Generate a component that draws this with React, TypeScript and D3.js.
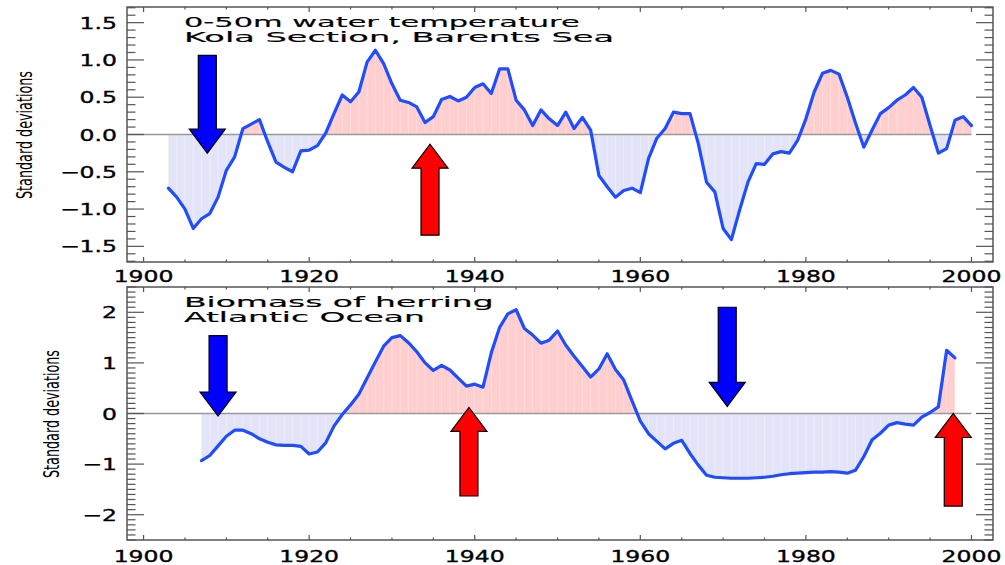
import React from 'react';
import * as d3 from 'd3';

// Kola Section 0-50m water temperature anomaly (std devs), one value per year from 1903
const kolaStart = 1903;
const kolaValues = [
  -0.72, -0.84, -1.0, -1.26, -1.13, -1.06, -0.84, -0.48, -0.3, 0.08,
  0.14, 0.2, -0.1, -0.37, -0.44, -0.5, -0.22, -0.21, -0.15, 0.02,
  0.28, 0.53, 0.44, 0.57, 0.97, 1.13, 0.95, 0.68, 0.46, 0.43,
  0.37, 0.16, 0.24, 0.47, 0.51, 0.45, 0.5, 0.63, 0.68, 0.55,
  0.88, 0.88, 0.46, 0.33, 0.12, 0.33, 0.21, 0.12, 0.3, 0.08,
  0.23, 0.06, -0.55, -0.7, -0.84, -0.75, -0.72, -0.78, -0.32, -0.05,
  0.08, 0.3, 0.28, 0.28, -0.12, -0.64, -0.77, -1.26, -1.41, -1.01,
  -0.64, -0.39, -0.4, -0.26, -0.23, -0.25, -0.08, 0.21, 0.57, 0.82,
  0.86, 0.81, 0.5, 0.15, -0.17, 0.06, 0.28, 0.36, 0.46, 0.53,
  0.63, 0.5, 0.12, -0.25, -0.19, 0.19, 0.24, 0.12,
];

// Atlantic herring biomass anomaly (std devs), one value per year from 1907
const herringStart = 1907;
const herringValues = [
  -0.93, -0.83, -0.64, -0.45, -0.33, -0.33, -0.4, -0.5, -0.57, -0.62,
  -0.63, -0.63, -0.65, -0.8, -0.76, -0.58, -0.25, -0.02, 0.17, 0.38,
  0.7, 1.02, 1.33, 1.5, 1.54, 1.4, 1.22, 1.0, 0.85, 0.95,
  0.86, 0.7, 0.54, 0.58, 0.52, 1.2, 1.7, 1.97, 2.05, 1.68,
  1.55, 1.39, 1.45, 1.63, 1.35, 1.13, 0.93, 0.72, 0.88, 1.18,
  0.87, 0.66, 0.25, -0.15, -0.4, -0.55, -0.7, -0.59, -0.53, -0.79,
  -1.02, -1.22, -1.26, -1.27, -1.28, -1.28, -1.28, -1.27, -1.26, -1.24,
  -1.21, -1.19, -1.18, -1.17, -1.16, -1.16, -1.15, -1.16, -1.18, -1.12,
  -0.85, -0.52, -0.39, -0.23, -0.18, -0.21, -0.23, -0.07, 0.02, 0.13,
  1.25, 1.1,
];

const yearTicks = [1900, 1920, 1940, 1960, 1980, 2000];
const kolaTicks = [-1.5, -1.0, -0.5, 0.0, 0.5, 1.0, 1.5];
const herringTicks = [-2, -1, 0, 1, 2];

const kolaTitle = ['0-50m water temperature', 'Kola Section, Barents Sea'];
const herringTitle = ['Biomass of herring', 'Atlantic Ocean'];

// arrows: year, value at tip, value at tail end
const kolaArrows = [
  { year: 1907.7, tip: -0.25, tail: 1.06, color: '#0000ff' },
  { year: 1934.6, tip: -0.13, tail: -1.35, color: '#ff0000' },
];
const herringArrows = [
  { year: 1909.0, tip: -0.05, tail: 1.54, color: '#0000ff' },
  { year: 1939.3, tip: 0.12, tail: -1.63, color: '#ff0000' },
  { year: 1970.5, tip: 0.14, tail: 2.1, color: '#0000ff' },
  { year: 1997.8, tip: 0.0, tail: -1.83, color: '#ff0000' },
];

const W = 1005;
const H = 565;
const LEFT = 127;
const RIGHT = 993;

const x = d3.scaleLinear().domain([1898, 2002.6]).range([LEFT, RIGHT]);

const FONT = '"DejaVu Sans", sans-serif';
const LINE_BLUE = '#1f4dff';
const PINK = '#ffcfcf';
const LAVENDER = '#e4e4f8';
const FRAME = '#555';

function Arrow({ a, y }) {
  const cx = x(a.year);
  const tipY = y(a.tip);
  const tailY = y(a.tail);
  const s = tipY > tailY ? 1 : -1;
  const base = tipY - s * 24;
  const d = `M${cx - 9},${tailY} L${cx + 9},${tailY} L${cx + 9},${base} L${cx + 18},${base} L${cx},${tipY} L${cx - 18},${base} L${cx - 9},${base} Z`;
  return <path d={d} fill={a.color} stroke="#000" strokeWidth={1.2} strokeLinejoin="miter" />;
}

function Panel({ id, top, bottom, domain, start, values, ticks, fmt, minorStep, title, arrows, labelX, labelY, xLabelY }) {
  const y = d3.scaleLinear().domain(domain).range([bottom, top]);
  const data = values.map((v, i) => ({ year: start + i, v }));
  const area = d3.area().x(d => x(d.year)).y0(y(0)).y1(d => y(d.v));
  const line = d3.line().x(d => x(d.year)).y(d => y(d.v));
  const zero = y(0);
  const yMinor = d3.range(Math.ceil(domain[0] / minorStep) * minorStep, domain[1] + 1e-9, minorStep);
  const xMinor = d3.range(1900, 2001, 5);
  const xMajLen = 5, xMinLen = 2.5, yMajLen = 17, yMinLen = 8.5;

  return (
    <g>
      <defs>
        <clipPath id={`${id}-pos`}>
          <rect x={LEFT} y={top} width={RIGHT - LEFT} height={zero - top} />
        </clipPath>
        <clipPath id={`${id}-neg`}>
          <rect x={LEFT} y={zero} width={RIGHT - LEFT} height={bottom - zero} />
        </clipPath>
        <clipPath id={`${id}-area`}>
          <path d={area(data)} />
        </clipPath>
      </defs>

      {/* filled anomalies */}
      <path d={area(data)} fill={PINK} clipPath={`url(#${id}-pos)`} />
      <path d={area(data)} fill={LAVENDER} clipPath={`url(#${id}-neg)`} />
      {/* faint yearly stripes inside the fill */}
      <g clipPath={`url(#${id}-area)`}>
        {data.map(d => (
          <line key={d.year} x1={x(d.year)} x2={x(d.year)} y1={top} y2={bottom} stroke="#fff" strokeOpacity={0.3} strokeWidth={1} />
        ))}
      </g>

      {/* zero line */}
      <line x1={LEFT} x2={x(2000)} y1={zero} y2={zero} stroke="#999" strokeWidth={1.5} />

      {/* series */}
      <path d={line(data)} fill="none" stroke={LINE_BLUE} strokeWidth={3.2} strokeLinejoin="round" strokeLinecap="round" />

      {arrows.map((a, i) => <Arrow key={i} a={a} y={y} />)}

      {/* frame */}
      <rect x={LEFT} y={top} width={RIGHT - LEFT} height={bottom - top} fill="none" stroke={FRAME} strokeWidth={1.5} />

      {/* x ticks, top and bottom */}
      {xMinor.map(t => {
        const len = yearTicks.includes(t) ? xMajLen : xMinLen;
        return (
          <g key={t} stroke={FRAME} strokeWidth={1.2}>
            <line x1={x(t)} x2={x(t)} y1={bottom} y2={bottom - len} />
            <line x1={x(t)} x2={x(t)} y1={top} y2={top + len} />
          </g>
        );
      })}
      {/* y ticks, left and right */}
      {yMinor.map((t, i) => {
        const major = ticks.some(m => Math.abs(m - t) < 1e-6);
        const len = major ? yMajLen : yMinLen;
        return (
          <g key={i} stroke={FRAME} strokeWidth={1.2}>
            <line x1={LEFT} x2={LEFT + len} y1={y(t)} y2={y(t)} />
            <line x1={RIGHT} x2={RIGHT - len} y1={y(t)} y2={y(t)} />
          </g>
        );
      })}

      {/* y tick labels */}
      {ticks.map(t => (
        <text
          key={t}
          transform={`translate(117,${y(t) + 6}) scale(1.47,1)`}
          textAnchor="end"
          fontFamily={FONT}
          fontSize={16}
          fill="#000"
          stroke="#000"
          strokeWidth={0.35}
        >
          {fmt(t)}
        </text>
      ))}

      {/* x tick labels */}
      {yearTicks.map(t => (
        <text
          key={t}
          transform={`translate(${x(t)},${xLabelY}) scale(1.47,1)`}
          textAnchor="middle"
          fontFamily={FONT}
          fontSize={16}
          fill="#000"
          stroke="#000"
          strokeWidth={0.35}
        >
          {t}
        </text>
      ))}

      {/* axis title */}
      <text
        transform={`translate(${labelX},${labelY}) rotate(-90)`}
        textAnchor="middle"
        fontFamily={FONT}
        fontSize={22}
        textLength={128}
        lengthAdjust="spacingAndGlyphs"
        fill="#000"
      >
        Standard deviations
      </text>

      {/* panel title */}
      {title.map((t, i) => (
        <text
          key={i}
          transform={`translate(184,${top + 20 + i * 14.5})`}
          fontFamily={FONT}
          fontSize={14}
          textLength={t.length * 17.2}
          lengthAdjust="spacingAndGlyphs"
          fill="#000"
          stroke="#000"
          strokeWidth={0.15}
        >
          {t}
        </text>
      ))}
    </g>
  );
}

const fmtKola = (t: number) => (t < 0 ? '\u2212' : '') + Math.abs(t).toFixed(1);
const fmtHerring = (t: number) => (t < 0 ? '\u2212' : '') + Math.abs(t).toFixed(0);

export default function App() {
  return (
    <svg
      width={W}
      height={H}
      style={{ position: 'absolute', left: 0, top: 0, background: '#fff' }}
    >
      <rect width={W} height={H} fill="#fff" />
      <Panel
        id="kola"
        top={7}
        bottom={262}
        domain={[-1.71, 1.71]}
        start={kolaStart}
        values={kolaValues}
        ticks={kolaTicks}
        fmt={fmtKola}
        minorStep={0.1}
        title={kolaTitle}
        arrows={kolaArrows}
        labelX={32}
        labelY={135}
        xLabelY={282}
      />
      <Panel
        id="herring"
        top={287}
        bottom={540}
        domain={[-2.5, 2.5]}
        start={herringStart}
        values={herringValues}
        ticks={herringTicks}
        fmt={fmtHerring}
        minorStep={0.1}
        title={herringTitle}
        arrows={herringArrows}
        labelX={59}
        labelY={414}
        xLabelY={562}
      />
    </svg>
  );
}
